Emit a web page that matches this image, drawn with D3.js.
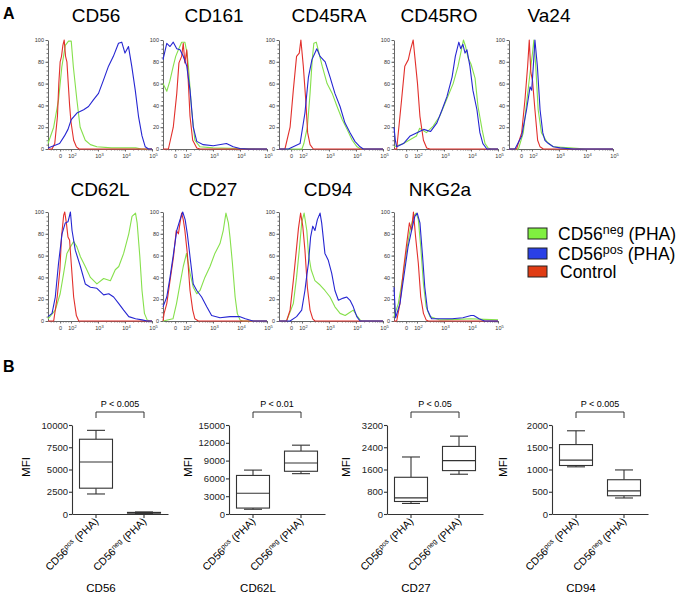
<!DOCTYPE html>
<html>
<head>
<meta charset="utf-8">
<script src="https://cdn.jsdelivr.net/npm/d3@7"></script>
<style>
  body { margin: 0; background: #fff; }
  svg { display: block; }
  text { font-family: Arial, "Liberation Sans", sans-serif; }
</style>
</head>
<body>
<svg id="fig" width="686" height="596"></svg>
<script>
// ---- histogram data (x = log decade position, "0" sits at 1.6; y = % of max) ----
var markers = ["CD56", "CD161", "CD45RA", "CD45RO", "Va24", "CD62L", "CD27", "CD94", "NKG2a"];

var negPHA = [
  [[1.15,5],[1.36,20],[1.54,45],[1.66,75],[1.79,95],[1.91,99],[2.01,99],[2.09,75],[2.22,45],[2.34,20],[2.53,8],[2.72,4],[2.96,2],[3.5,1],[4.4,1],[4.6,0],[5,0]],
  [[1.15,60],[1.29,53],[1.4,62],[1.53,76],[1.62,85],[1.72,91],[1.84,98],[1.96,98],[2.04,88],[2.09,76],[2.21,36],[2.33,8],[2.52,2],[3.0,1],[4.0,0.5],[5,0]],
  [[1.15,0],[2.0,0],[2.07,5],[2.2,20],[2.3,51],[2.38,82],[2.44,97],[2.53,98],[2.63,88],[2.75,76],[2.93,60],[3.12,51],[3.3,39],[3.49,27],[3.67,18],[3.86,8],[4.04,2],[4.17,0],[5,0]],
  [[1.15,2],[1.5,5],[1.98,12],[2.1,19],[2.35,15],[2.6,21],[2.84,30],[3.09,45],[3.34,60],[3.52,76],[3.62,88],[3.72,100],[3.8,94],[3.9,83],[4.0,78],[4.15,65],[4.26,39],[4.41,18],[4.52,5],[4.63,1],[4.75,0],[5,0]],
  [[1.15,0],[1.5,0],[1.68,15],[1.8,42],[1.93,70],[2.02,88],[2.07,100],[2.14,76],[2.23,36],[2.35,15],[2.54,7],[2.79,2],[3.41,1],[4.0,0],[5,0]],
  [[1.15,2],[1.42,10],[1.6,25],[1.73,44],[1.85,62],[1.98,68],[2.1,73],[2.22,68],[2.35,59],[2.53,50],[2.72,40],[2.96,34],[3.21,39],[3.46,37],[3.64,47],[3.77,50],[3.95,62],[4.14,80],[4.26,96],[4.39,99],[4.45,90],[4.55,59],[4.63,28],[4.72,7],[4.82,1],[4.94,0],[5,0]],
  [[1.15,0],[1.52,2],[1.65,16],[1.78,34],[1.9,50],[2.02,62],[2.15,44],[2.27,31],[2.4,25],[2.52,28],[2.7,40],[2.89,50],[3.07,62],[3.26,71],[3.38,83],[3.48,99],[3.57,90],[3.63,77],[3.72,53],[3.82,22],[3.9,7],[4.0,1],[4.1,0],[5,0]],
  [[1.15,0],[1.43,0],[1.68,16],[1.8,40],[1.9,65],[1.99,90],[2.08,99],[2.18,83],[2.24,62],[2.34,47],[2.48,37],[2.67,33],[2.85,28],[3.04,22],[3.22,13],[3.41,7],[3.6,5],[3.78,8],[3.9,10],[4.03,5],[4.15,1],[4.21,0],[5,0]],
  [[1.15,4],[1.31,16],[1.5,44],[1.62,65],[1.74,83],[1.87,96],[1.97,99],[2.05,93],[2.14,68],[2.24,34],[2.34,13],[2.48,4],[2.85,1],[3.5,1.5],[4.0,2],[4.5,1.5],[5,1]]
];

var posPHA = [
  [[1.15,1],[1.58,5],[1.76,12],[1.89,18],[2.01,27],[2.22,33],[2.47,36],[2.65,39],[2.83,45],[3.02,51],[3.2,63],[3.39,76],[3.57,85],[3.76,97],[3.88,98],[4.0,88],[4.13,94],[4.25,76],[4.38,54],[4.5,30],[4.63,12],[4.75,2],[4.87,0],[5,0]],
  [[1.15,82],[1.29,97],[1.41,94],[1.53,98],[1.66,92],[1.78,91],[1.9,85],[2.03,76],[2.15,54],[2.27,20],[2.4,7],[2.64,4],[3.01,3],[3.5,5],[3.75,2],[4.0,0.5],[4.3,0],[5,0]],
  [[1.15,0],[1.5,0],[1.93,5],[2.11,33],[2.24,66],[2.37,82],[2.55,92],[2.67,85],[2.86,80],[3.04,66],[3.22,51],[3.41,39],[3.59,24],[3.78,15],[3.96,7],[4.15,2],[4.27,0],[5,0]],
  [[1.15,20],[1.2,8],[1.25,2],[1.5,5],[1.75,12],[2.0,15],[2.25,18],[2.5,16],[2.74,24],[2.93,36],[3.11,48],[3.3,66],[3.42,85],[3.55,98],[3.62,92],[3.7,96],[3.78,88],[3.85,91],[3.96,76],[4.07,54],[4.22,36],[4.33,15],[4.44,5],[4.59,0],[5,0]],
  [[1.15,0],[1.37,0],[1.62,12],[1.8,36],[1.93,57],[1.99,54],[2.05,76],[2.11,100],[2.2,76],[2.3,36],[2.4,15],[2.48,8],[2.61,5],[2.79,2],[3.04,1],[3.53,0],[5,0]],
  [[1.15,4],[1.3,7],[1.42,22],[1.54,53],[1.67,80],[1.79,90],[1.89,91],[1.98,100],[2.04,83],[2.16,65],[2.35,50],[2.53,34],[2.72,31],[2.96,30],[3.21,24],[3.4,25],[3.58,22],[3.77,16],[3.95,10],[4.14,4],[4.39,2],[4.63,1],[4.82,0],[5,0]],
  [[1.15,13],[1.29,22],[1.41,40],[1.54,62],[1.66,83],[1.78,93],[1.88,100],[1.97,93],[2.05,80],[2.15,59],[2.27,34],[2.4,28],[2.58,22],[2.77,13],[2.95,5],[3.26,3],[3.63,4],[4.0,4],[4.2,2],[4.48,0],[5,0]],
  [[1.15,0],[1.56,0],[1.8,4],[1.99,10],[2.11,28],[2.17,40],[2.24,53],[2.32,77],[2.4,87],[2.48,83],[2.57,93],[2.67,99],[2.73,90],[2.85,62],[2.97,56],[3.1,44],[3.22,28],[3.35,19],[3.53,21],[3.66,22],[3.78,19],[3.9,13],[4.03,4],[4.15,0],[5,0]],
  [[1.15,31],[1.21,3],[1.37,16],[1.55,47],[1.67,68],[1.8,83],[1.92,96],[2.01,99],[2.11,90],[2.2,62],[2.29,31],[2.39,10],[2.54,2],[3.3,2],[3.7,3],[4.0,5],[4.1,5],[4.3,2],[4.5,0],[5,0]]
];

var control = [
  [[1.15,0],[1.3,0],[1.4,5],[1.5,30],[1.55,60],[1.6,80],[1.65,85],[1.7,95],[1.75,100],[1.8,85],[1.85,80],[1.9,60],[1.95,40],[2.0,25],[2.1,8],[2.2,2],[2.3,0],[5,0]],
  [[1.15,0],[1.35,0],[1.53,20],[1.66,51],[1.74,79],[1.84,85],[1.9,97],[1.96,79],[2.03,91],[2.09,60],[2.15,30],[2.25,8],[2.4,1],[2.52,0],[5,0]],
  [[1.15,0],[1.37,0],[1.56,20],[1.68,54],[1.8,85],[1.9,88],[1.96,100],[2.05,76],[2.14,45],[2.21,15],[2.3,4],[2.42,0],[5,0]],
  [[1.15,0],[1.25,0],[1.43,45],[1.55,76],[1.68,82],[1.76,91],[1.86,100],[1.92,85],[2.02,60],[2.11,30],[2.24,8],[2.36,1],[2.48,0],[5,0]],
  [[1.15,0],[1.43,0],[1.62,15],[1.74,45],[1.84,76],[1.9,100],[1.96,70],[2.02,63],[2.11,36],[2.21,8],[2.3,2],[2.42,0],[5,0]],
  [[1.15,0],[1.36,0],[1.49,22],[1.59,47],[1.65,77],[1.73,97],[1.77,100],[1.83,90],[1.89,77],[1.95,74],[2.01,53],[2.1,22],[2.2,5],[2.29,0],[5,0]],
  [[1.15,0],[1.19,7],[1.29,16],[1.41,37],[1.54,59],[1.64,83],[1.72,80],[1.78,90],[1.84,99],[1.9,93],[1.96,83],[2.05,62],[2.15,28],[2.25,10],[2.33,2],[2.46,0],[5,0]],
  [[1.15,0],[1.43,0],[1.56,10],[1.68,37],[1.78,62],[1.87,85],[1.95,99],[2.03,87],[2.11,65],[2.2,31],[2.3,10],[2.4,2],[2.48,0],[5,0]],
  [[1.15,0],[1.25,0],[1.37,16],[1.5,47],[1.62,71],[1.72,90],[1.8,83],[1.87,100],[1.95,77],[2.05,53],[2.14,22],[2.24,7],[2.34,1],[2.42,0],[5,0]]
];

var xTickVals = [1.6, 2, 3, 4, 5];
var xTickBase = ["0", "10", "10", "10", "10"];
var xTickExp = ["", "2", "3", "4", "5"];
var yTickVals = [0, 20, 40, 60, 80, 100];

// ---- box plot data: [min, q1, median, q3, max] ----
var boxMarkers = ["CD56", "CD62L", "CD27", "CD94"];
var posStats = [[2250,2900,5850,8400,9400],[800,1000,3500,6500,7400],[380,450,580,1320,2050],[1060,1090,1210,1560,1870]];
var negStats = [[60,100,140,180,230],[6800,7200,8600,10600,11600],[1430,1560,1920,2430,2800],[360,410,520,770,990]];
var boxYMax = [10000, 15000, 3200, 2000];
var boxYStep = [2500, 3000, 800, 500];
var pLabels = ["P < 0.005", "P < 0.01", "P < 0.05", "P < 0.005"];

var seriesNames = ["neg", "pos", "Control"];
var colors = {neg: "#86e04c", pos: "#2626d2", ctrl: "#e2302c"};

var svg = d3.select("#fig");

// ---------------- Panel A ----------------
svg.append("text").attr("x", 3).attr("y", 19)
    .style("font-size", "16px").style("font-weight", "bold").text("A");

var panelLeft = [48, 163, 279, 394, 509, 48, 163, 279, 394];
var panelTop = [40, 40, 40, 40, 40, 212, 212, 212, 212];
var titleX = [96, 214, 329, 439, 549, 100, 213, 328, 440];
var titleY = [22, 22, 22, 22, 22, 196, 196, 196, 196];
var panelW = 104, panelH = 109;

markers.forEach(function(name, i) {
    var left = panelLeft[i], top = panelTop[i], bottom = top + panelH;
    var g = svg.append("g");

    var x = d3.scaleLinear().domain([1.15, 5]).range([left, left + panelW]);
    var y = d3.scaleLinear().domain([0, 100]).range([bottom, top]);

    g.append("text")
        .attr("x", titleX[i]).attr("y", titleY[i])
        .attr("text-anchor", "middle")
        .style("font-size", "19px")
        .text(name);

    // minor ticks first
    g.append("g").attr("transform", "translate(" + left + ",0)")
        .call(d3.axisLeft(y).tickValues(d3.range(0, 101, 4)).tickSize(1.5).tickFormat(""))
        .call(function(a) { a.select(".domain").remove(); a.selectAll("line").attr("stroke", "#777"); });

    var minor = [1.25, 1.35, 1.45, 1.7, 1.8, 1.9];
    [2, 3, 4].forEach(function(d) {
        d3.range(2, 10).forEach(function(k) { minor.push(d + Math.log10(k)); });
    });
    g.append("g").attr("transform", "translate(0," + bottom + ")")
        .call(d3.axisBottom(x).tickValues(minor).tickSize(1.5).tickFormat(""))
        .call(function(a) { a.select(".domain").remove(); a.selectAll("line").attr("stroke", "#777"); });

    var yAxis = g.append("g").attr("transform", "translate(" + left + ",0)")
        .call(d3.axisLeft(y).tickValues(yTickVals).tickSize(2.5).tickSizeOuter(0).tickPadding(1.5));
    yAxis.selectAll("text").style("font-size", "5.5px").attr("fill", "#333");
    yAxis.selectAll("line").attr("stroke", "#666");
    yAxis.select(".domain").attr("stroke", "#666");

    var xAxis = g.append("g").attr("transform", "translate(0," + bottom + ")")
        .call(d3.axisBottom(x).tickValues(xTickVals).tickSize(2.5).tickSizeOuter(0).tickFormat(""));
    xAxis.selectAll("line").attr("stroke", "#666");
    xAxis.select(".domain").attr("stroke", "#666");
    xAxis.selectAll(".tick").each(function(d, j) {
        var t = d3.select(this).append("text")
            .attr("y", 9).attr("x", xTickExp[j] ? 1 : 0)
            .attr("text-anchor", "middle")
            .attr("fill", "#333")
            .style("font-size", "5.5px")
            .text(xTickBase[j]);
        if (xTickExp[j]) {
            t.append("tspan").attr("dy", -2.5).style("font-size", "4px").text(xTickExp[j]);
        }
    });

    var line = d3.line()
        .x(function(d) { return x(d[0]); })
        .y(function(d) { return y(d[1]); });

    [[negPHA[i], colors.neg], [control[i], colors.ctrl], [posPHA[i], colors.pos]].forEach(function(s) {
        g.append("path")
            .datum(s[0])
            .attr("d", line)
            .attr("fill", "none")
            .attr("stroke", s[1])
            .attr("stroke-width", 1.1)
            .attr("stroke-linejoin", "round");
    });
});

// legend
var legendY = [228, 248, 266];
var legendFill = ["#80f040", "#2a40e6", "#e03c14"];
var legend = svg.append("g");
legend.selectAll("rect").data(legendY).enter().append("rect")
    .attr("x", 528).attr("y", function(d) { return d; })
    .attr("width", 19).attr("height", 11)
    .attr("fill", function(d, i) { return legendFill[i]; })
    .attr("stroke", "#222").attr("stroke-width", 1);
seriesNames.forEach(function(s, i) {
    var t = legend.append("text")
        .attr("x", 558).attr("y", legendY[i] + 11.5)
        .style("font-size", "17.5px");
    if (s === "Control") {
        t.attr("x", 560).text("Control");
    } else {
        t.text("CD56");
        t.append("tspan").attr("dy", -6).style("font-size", "12.5px").text(s);
        t.append("tspan").attr("dy", 6).text(" (PHA)");
    }
});

// ---------------- Panel B ----------------
svg.append("text").attr("x", 3).attr("y", 372)
    .style("font-size", "16px").style("font-weight", "bold").text("B");

var boxAxisX = [72, 229, 387, 552];
var mfiX = [30, 192, 350, 507];
var boxTop = 425, boxBottom = 514, boxW = 96;

boxMarkers.forEach(function(name, i) {
    var ax = boxAxisX[i];
    var g = svg.append("g");
    var y = d3.scaleLinear().domain([0, boxYMax[i]]).range([boxBottom, boxTop]);
    var x = d3.scaleBand().domain(["pos", "neg"]).range([ax, ax + boxW]);
    var cx = function(k) { return x(k) + x.bandwidth() / 2; };

    var yAxis = g.append("g").attr("transform", "translate(" + ax + ",0)")
        .call(d3.axisLeft(y).tickValues(d3.range(0, boxYMax[i] + 1, boxYStep[i]))
            .tickFormat(d3.format("d")).tickSize(3).tickSizeOuter(0).tickPadding(1));
    yAxis.selectAll("text").style("font-size", "9.5px").attr("fill", "#222");
    yAxis.selectAll("line, path").attr("stroke", "#333").attr("stroke-width", 1.1);

    var xAxis = g.append("g").attr("transform", "translate(0," + boxBottom + ")")
        .call(d3.axisBottom(x).tickSize(4).tickSizeOuter(0).tickFormat(""));
    xAxis.selectAll("line, path").attr("stroke", "#333").attr("stroke-width", 1.1);

    g.append("text")
        .attr("transform", "translate(" + mfiX[i] + "," + 467 + ") rotate(-90)")
        .attr("text-anchor", "middle")
        .style("font-size", "11.5px")
        .text("MFI");

    ["pos", "neg"].forEach(function(k) {
        var st = k === "pos" ? posStats[i] : negStats[i];
        var c = cx(k), bw = 33, cap = 18;
        var bg = g.append("g").attr("stroke", "#333").attr("stroke-width", 1.1).attr("fill", "none");
        bg.append("line").attr("x1", c).attr("x2", c).attr("y1", y(st[0])).attr("y2", y(st[1]));
        bg.append("line").attr("x1", c).attr("x2", c).attr("y1", y(st[3])).attr("y2", y(st[4]));
        bg.append("line").attr("x1", c - cap / 2).attr("x2", c + cap / 2).attr("y1", y(st[0])).attr("y2", y(st[0]));
        bg.append("line").attr("x1", c - cap / 2).attr("x2", c + cap / 2).attr("y1", y(st[4])).attr("y2", y(st[4]));
        bg.append("rect").attr("x", c - bw / 2).attr("width", bw)
            .attr("y", y(st[3])).attr("height", Math.max(y(st[1]) - y(st[3]), 0.5))
            .attr("fill", "#fff");
        bg.append("line").attr("x1", c - bw / 2).attr("x2", c + bw / 2).attr("y1", y(st[2])).attr("y2", y(st[2]));

        var t = g.append("text")
            .attr("transform", "translate(" + (c + 3) + "," + (boxBottom + 8) + ") rotate(-45)")
            .attr("text-anchor", "end")
            .style("font-size", "10.5px")
            .text("CD56");
        t.append("tspan").attr("dy", -3.5).style("font-size", "7px").text(k);
        t.append("tspan").attr("dy", 3.5).text(" (PHA)");
    });

    // significance bracket
    var bx1 = cx("pos"), bx2 = cx("neg");
    g.append("path")
        .attr("d", "M" + bx1 + ",418V412H" + bx2 + "V418")
        .attr("fill", "none").attr("stroke", "#333").attr("stroke-width", 1);
    g.append("text")
        .attr("x", (bx1 + bx2) / 2).attr("y", 407)
        .attr("text-anchor", "middle")
        .style("font-size", "9px")
        .text(pLabels[i]);

    g.append("text")
        .attr("x", bx1 + 5).attr("y", 592)
        .attr("text-anchor", "middle")
        .style("font-size", "11.5px")
        .text(name);
});
</script>
</body>
</html>
